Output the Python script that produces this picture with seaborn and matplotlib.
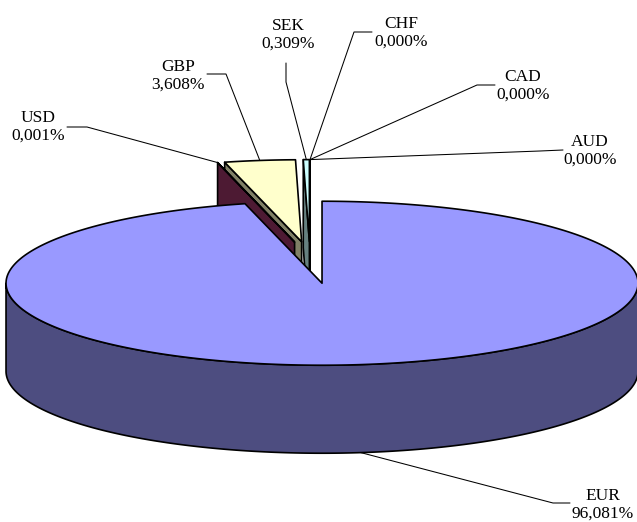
import numpy as np
import matplotlib.pyplot as plt
import seaborn as sns
from matplotlib.patches import Polygon
from matplotlib.colors import to_rgb

# Configuración general
sns.set_theme(style="white")
plt.rcParams["font.family"] = ["Liberation Serif", "DejaVu Serif"]

# -----------------------------
# DATOS
# -----------------------------
monedas = ["EUR", "USD", "GBP", "SEK", "CHF", "CAD", "AUD"]
porcentajes = [96.081, 0.001, 3.608, 0.309, 0.000, 0.000, 0.000]

# estilo de cada porción
colores = ["#9999FF", "#993366", "#FFFFCC", "#CCFFFF", "#660066", "#FF8080", "#0066CC"]
separacion = [0.31, 0.2, 0.2, 0.2, 0.2, 0.2, 0.2]

# geometría del pastel 3D (en pixeles)
centro = (310, 258)
rx, ry, alto = 316, 82, 88

# etiquetas: (texto x, texto y, codo x, codo y, fin x, fin y)
pos_etiquetas = {
    "EUR": (603, 505, 553, 503, 570, 503),
    "USD": (38, 127, 87, 127, 67, 127),
    "GBP": (178, 76, 226, 74, 207, 74),
    "SEK": (288, 35, 286, 82, 286, 63),
    "CHF": (401, 33, 354, 32, 372, 32),
    "CAD": (523, 86, 477, 85, 495, 85),
    "AUD": (590, 151, 540, 151, 563, 150),
}


def punto(cx, cy, ang, z=0.0):
    t = np.deg2rad(ang)
    return cx + rx * np.cos(t), cy - ry * np.sin(t) + z


# -----------------------------
# PORCIONES
# -----------------------------
total = sum(porcentajes)
rebanadas = []
ang = 90.0
for nombre, pct, color, ex in zip(monedas, porcentajes, colores, separacion):
    barrido = pct / total * 360
    a0, a1 = ang, ang - barrido
    medio = (a0 + a1) / 2
    t = np.deg2rad(medio)
    cx = centro[0] + ex * rx * np.cos(t)
    cy = centro[1] - ex * ry * np.sin(t)
    rebanadas.append(dict(nombre=nombre, pct=pct, color=color,
                          a0=a0, a1=a1, medio=medio, cx=cx, cy=cy))
    ang = a1

fig = plt.figure(figsize=(6.37, 5.22), dpi=100)
ax = fig.add_axes([0, 0, 1, 1])
ax.set_xlim(0, 637)
ax.set_ylim(522, 0)
ax.axis("off")

borde = dict(edgecolor="black", linewidth=1.2, joinstyle="round")

# dibujar de atrás hacia adelante
orden = sorted(rebanadas, key=lambda r: -np.sin(np.deg2rad(r["medio"])))
for r in orden:
    cx, cy = r["cx"], r["cy"]
    oscuro = tuple(c * 0.5 for c in to_rgb(r["color"]))

    # paredes radiales
    for a, visible in ((r["a0"], np.cos(np.deg2rad(r["a0"])) < 0),
                       (r["a1"], np.cos(np.deg2rad(r["a1"])) > 0)):
        if visible:
            pts = [(cx, cy), punto(cx, cy, a), punto(cx, cy, a, alto), (cx, cy + alto)]
            ax.add_patch(Polygon(pts, closed=True, facecolor=oscuro, **borde))

    # pared exterior (solo la mitad frontal)
    for k in (-360, 0, 360):
        lo, hi = max(r["a1"], -180 + k), min(r["a0"], 0 + k)
        if hi > lo:
            angs = np.linspace(lo, hi, 200)
            arriba = [punto(cx, cy, a) for a in angs]
            abajo = [punto(cx, cy, a, alto) for a in angs[::-1]]
            ax.add_patch(Polygon(arriba + abajo, closed=True, facecolor=oscuro, **borde))

    # cara superior
    n = max(2, int(abs(r["a0"] - r["a1"]) * 2) + 2)
    arco = [punto(cx, cy, a) for a in np.linspace(r["a0"], r["a1"], n)]
    ax.add_patch(Polygon([(cx, cy)] + arco, closed=True, facecolor=r["color"], **borde))

# -----------------------------
# ETIQUETAS
# -----------------------------
for r in rebanadas:
    tx, ty, kx, ky, fx, fy = pos_etiquetas[r["nombre"]]
    if np.sin(np.deg2rad(r["medio"])) >= 0:
        axx, axy = punto(r["cx"], r["cy"], r["medio"])
    else:
        axx, axy = punto(r["cx"], r["cy"], r["medio"], alto)
    ax.plot([fx, kx, axx], [fy, ky, axy], color="black", linewidth=0.75, zorder=5)
    texto = r["nombre"] + "\n" + f"{r['pct']:.3f}".replace(".", ",") + "%"
    ax.text(tx, ty, texto, ha="center", va="center", fontsize=12.5,
            linespacing=1.15, color="black", zorder=6)

plt.savefig("out.png", dpi=100)
